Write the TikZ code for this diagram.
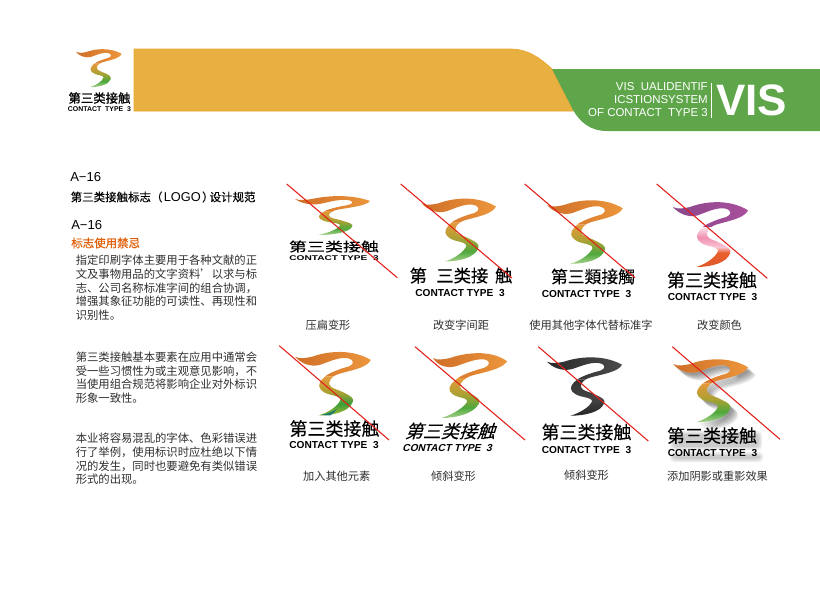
\documentclass[tikz,border=0pt]{standalone}
\usepackage{fontspec}
\setmainfont{Liberation Sans}
\newfontfamily\cjk{Noto Sans CJK SC}
\newfontfamily\cjktc[FakeBold=0.1]{Noto Sans CJK TC}
\newfontfamily\cjkw[FakeBold=0.12]{Noto Sans CJK SC}
\newfontfamily\cjkm[FakeBold=0.4]{Noto Sans CJK SC}
\newfontfamily\cjkb[FakeBold=1]{Noto Sans CJK SC}

\definecolor{bandgold}{HTML}{E8B040}
\definecolor{bandedge}{HTML}{EAA62E}
\definecolor{bandgreen}{HTML}{5FA64B}
\definecolor{strikered}{HTML}{E2201A}
\definecolor{warnorange}{HTML}{E0600A}
\definecolor{bodygray}{HTML}{2E2E2E}
\definecolor{tailorange}{HTML}{CF6E28}
\definecolor{tiporange}{HTML}{EC963C}
\definecolor{tailpurple}{HTML}{8A478C}
\definecolor{tippurple}{HTML}{A94F9B}
\definecolor{tailgray}{HTML}{2B2B2B}
\definecolor{tipgray}{HTML}{4A4A4A}
\definecolor{addteal}{HTML}{1E7F70}

\pgfdeclareverticalshading{lowgreen}{100bp}{rgb(0bp)=(.66,.82,.55); rgb(25bp)=(.66,.82,.55);
 rgb(38bp)=(.31,.66,.24); rgb(55bp)=(.68,.63,.2); rgb(75bp)=(.90,.60,.23); rgb(100bp)=(.90,.60,.23)}
\pgfdeclareverticalshading{lowmix}{100bp}{rgb(0bp)=(.66,.73,.18); rgb(25bp)=(.66,.73,.18);
 rgb(40bp)=(.23,.62,.23); rgb(55bp)=(.68,.63,.2); rgb(75bp)=(.90,.60,.23); rgb(100bp)=(.90,.60,.23)}
\pgfdeclareverticalshading{lowpink}{100bp}{rgb(0bp)=(.88,.34,.16); rgb(25bp)=(.88,.34,.16);
 rgb(43bp)=(.91,.38,.18); rgb(50bp)=(.98,.77,.83); rgb(62bp)=(.94,.56,.69); rgb(75bp)=(.98,.90,.93); rgb(100bp)=(.98,.90,.93)}
\pgfdeclareverticalshading{lowgray}{100bp}{rgb(0bp)=(.15,.15,.15); rgb(25bp)=(.15,.15,.15);
 rgb(50bp)=(.27,.27,.27); rgb(75bp)=(.20,.20,.20); rgb(100bp)=(.20,.20,.20)}

\def\logotop{(0,0) .. controls (5,2.5) and (10,1.5) .. (17,0) .. controls (30,-5) and (55,-9) .. (75,3.3)
 .. controls (72,10) and (60,13) .. (50,15.7) .. controls (45,17) and (41,18) .. (38.3,20) -- (30,20)
 .. controls (33,17) and (45,12) .. (53.3,10) .. controls (58,8) and (60,3.5) .. (52,1.5)
 .. controls (43,0) and (32,6) .. (24,8.5) .. controls (15,10.5) and (6,7) .. (0,0) -- cycle}
\def\logolow{(38.3,20) .. controls (34,23) and (32.5,28) .. (35.5,30.5) .. controls (38,33) and (44,34) .. (48,36.5)
 .. controls (55,40) and (58.5,42) .. (57.2,46) .. controls (54,56) and (38,60) .. (23.3,60)
 .. controls (33,57) and (43,50) .. (45,44) .. controls (45.5,41) and (40,40) .. (34,38.5)
 .. controls (25.5,36) and (22.5,31) .. (24.5,26.7) .. controls (25.5,24) and (28,22) .. (30,20) -- cycle}

\newcommand{\logomark}[8]{
\begin{scope}[shift={(#1,#2)},xslant=#5,xscale=#3,yscale=#4]
\shade[left color=#6,right color=#7] \logotop;
\shade[shading=#8] \logolow;
\end{scope}}

\tikzset{
 wordmark/.style={inner sep=0pt,font=\cjkw\fontsize{13.5}{14}\selectfont},
 contactmark/.style={inner sep=0pt,font=\bfseries\fontsize{7.6}{8}\selectfont},
 caption/.style={inner sep=0pt,text=bodygray,font=\cjk\fontsize{8.4}{10}\selectfont},
 bodytext/.style={inner sep=0pt,anchor=north west,align=left,text=bodygray,font=\cjk\fontsize{8.5}{10.25}\selectfont},
 headcode/.style={inner sep=0pt,anchor=west,font=\fontsize{9.8}{10}\selectfont},
 strike/.style={draw=strikered,line width=0.8pt}
}

\begin{document}
\begin{tikzpicture}[x=0.75pt,y=-0.75pt]
\useasboundingbox (0,0) rectangle (820,608);

\fill[bandgold,draw=bandedge,line width=0.5pt] (134,49) -- (510,49) .. controls (528,49) and (540,58) .. (552,69) -- (573,111) -- (134,111) -- cycle;
\fill[bandgreen] (552,69) -- (820,69) -- (820,131) -- (607,131) .. controls (590,131) and (580,122) .. (573,110) -- cycle;
\node[inner sep=0pt,anchor=east,align=right,text=white,font=\fontsize{8.6}{9.6}\selectfont] (bandtext) at (708,99.5) {VIS\ \ UALIDENTIF\\ICSTIONSYSTEM\\OF CONTACT\ \ TYPE 3};
\draw[white,line width=0.5pt] (711.3,83) -- (711.3,118);
\node[inner sep=0pt,anchor=west,text=white,font=\bfseries\fontsize{33}{33}\selectfont] (bandvis) at (716,100) {VIS};

\logomark{76}{52}{0.61}{0.585}{0}{tailorange}{tiporange}{lowgreen}
\node[wordmark,font=\cjkb\fontsize{9.3}{10}\selectfont] (headword) at (99.5,98) {第三类接触};
\node[contactmark,font=\bfseries\fontsize{5.2}{5.5}\selectfont] (headcontact) at (99.5,109) {CONTACT\ \ TYPE\ \ 3};

\node[headcode] (codeone) at (70,177) {A−16};
\node[inner sep=0pt,anchor=west,font=\cjkm\fontsize{8.6}{10}\selectfont] (titleone) at (70.5,197) {第三类接触标志（\kern1pt{\fontsize{9.6}{10}\selectfont\rmfamily LOGO}\kern1pt）\kern-3pt 设计规范};
\node[headcode] (codetwo) at (71,224.5) {A−16};
\node[inner sep=0pt,anchor=west,text=warnorange,font=\cjkb\fontsize{8.6}{10}\selectfont] (warntitle) at (71,243) {标志使用禁忌};
\node[bodytext] (paraone) at (75.5,255) {指定印刷字体主要用于各种文献的正\\文及事物用品的文字资料’以求与标\\志、公司名称标准字间的组合协调，\\增强其象征功能的可读性、再现性和\\识别性。};
\node[bodytext] (paratwo) at (75.5,351.5) {第三类接触基本要素在应用中通常会\\受一些习惯性为或主观意见影响，不\\当使用组合规范将影响企业对外标识\\形象一致性。};
\node[bodytext] (parathree) at (75.5,433) {本业将容易混乱的字体、色彩错误进\\行了举例，使用标识时应杜绝以下情\\况的发生，同时也要避免有类似错误\\形式的出现。};

\logomark{295}{199}{1}{0.6}{0}{tailorange}{tiporange}{lowgreen}
\node[wordmark,yscale=0.72,transform shape] (flatword) at (334,246.5) {第三类接触};
\node[contactmark,yscale=0.68,transform shape] (flatcontact) at (334,258) {CONTACT TYPE\ \ 3};
\node[caption] (flatcap) at (328,325) {压扁变形};

\logomark{421.7}{203.3}{0.99}{0.97}{0}{tailorange}{tiporange}{lowgreen}
\node[wordmark,font=\cjkw\fontsize{13}{14}\selectfont] (gapword) at (461,275.5) {第\hspace{7pt}三类接\hspace{5pt}触};
\node[contactmark] (gapcontact) at (460,293) {CONTACT TYPE\ \ 3};
\node[caption] (gapcap) at (461,325) {改变字间距};

\logomark{547}{205}{1.01}{0.98}{0}{tailorange}{tiporange}{lowgreen}
\node[wordmark,font=\cjktc\fontsize{12.6}{14}\selectfont] (fontword) at (593,276.5) {第三類接觸};
\node[contactmark] (fontcontact) at (586.5,294.5) {CONTACT TYPE\ \ 3};
\node[caption] (fontcap) at (591,325) {使用其他字体代替标准字};

\logomark{673}{207}{1}{1}{0}{tailpurple}{tippurple}{lowpink}
\node[wordmark] (colorword) at (712,280) {第三类接触};
\node[contactmark] (colorcontact) at (712.5,297) {CONTACT TYPE\ \ 3};
\node[caption] (colorcap) at (719.5,325) {改变颜色};

\logomark{295}{356.7}{1.01}{0.98}{0}{tailorange}{tiporange}{lowmix}
\fill[addteal] (320,415) .. controls (326,414) and (332,412) .. (337,409) .. controls (335,412) and (333,414) .. (330,415.5) -- cycle;
\node[wordmark] (addword) at (334.5,428.5) {第三类接触};
\node[contactmark] (addcontact) at (334,445.5) {CONTACT TYPE\ \ 3};
\node[caption] (addcap) at (336.7,476) {加入其他元素};

\logomark{433}{358}{1}{1}{0.25}{tailorange}{tiporange}{lowgreen}
\node[wordmark,xslant=0.32,transform shape] (slantword) at (452,431) {第三类接触};
\node[contactmark,xslant=0.25,transform shape] (slantcontact) at (448,448.5) {CONTACT TYPE\ \ 3};
\node[caption] (slantcap) at (453.5,476) {倾斜变形};

\logomark{547}{361.7}{1}{0.9}{0}{tailgray}{tipgray}{lowgray}
\node[wordmark] (grayword) at (586.5,432) {第三类接触};
\node[contactmark] (graycontact) at (586.5,450.5) {CONTACT TYPE\ \ 3};
\node[caption] (graycap) at (586.5,475) {倾斜变形};

\begin{scope}[shift={(673,364)},yscale=0.97]
\foreach \d in {2,3,4,5,6,7,8}
 \fill[black,opacity=0.07,shift={(\d,\d)}] \logotop \logolow;
\end{scope}
\foreach \d in {0,1.5,3}
 \fill[black,opacity=0.07,rounded corners=3pt] (670+\d,431+\d) rectangle (762-\d,450-\d);
\foreach \d in {0,1.5,3}
 \fill[black,opacity=0.07,rounded corners=3pt] (670+\d,452+\d) rectangle (763-\d,462-\d);
\logomark{673}{364}{1}{0.97}{0}{tailorange}{tiporange}{lowgreen}
\node[wordmark] (shadeword) at (712,435.5) {第三类接触};
\node[contactmark] (shadecontact) at (712.5,453) {CONTACT TYPE\ \ 3};
\node[caption] (shadecap) at (717.5,476) {添加阴影或重影效果};

\draw[strike] (286.7,184) -- (397.3,277.7);
\draw[strike] (400.7,184) -- (512,278);
\draw[strike] (524.7,184) -- (635,277.7);
\draw[strike] (656.7,184) -- (767.3,278.3);
\draw[strike] (279.3,345.7) -- (389,440);
\draw[strike] (415,346.7) -- (525,440);
\draw[strike] (538.3,346.7) -- (648.3,441);
\draw[strike] (672.3,346.7) -- (780,439.3);
\end{tikzpicture}
\end{document}
